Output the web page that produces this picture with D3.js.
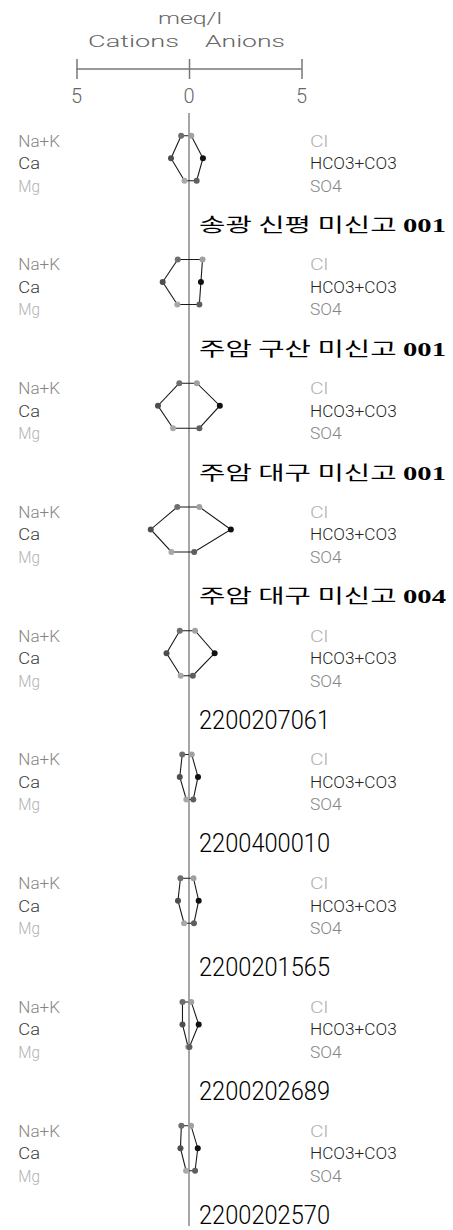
<!DOCTYPE html>
<html>
<head>
<meta charset="utf-8">
<script src="https://cdn.jsdelivr.net/npm/d3@7"></script>
<style>
  html, body { margin: 0; padding: 0; background: #fff; }
  svg { display: block; }
</style>
</head>
<body>
<div id="chart"></div>
<script>
// ---------------- data ----------------
const samples = [
  "송광 신평 미신고 001",
  "주암 구산 미신고 001",
  "주암 대구 미신고 001",
  "주암 대구 미신고 004",
  "2200207061",
  "2200400010",
  "2200201565",
  "2200202689",
  "2200202570"
];
// cations (meq/l)
const naK  = [0.35, 0.50, 0.43, 0.52, 0.41, 0.30, 0.38, 0.29, 0.34];
const ca   = [0.80, 1.17, 1.38, 1.70, 1.00, 0.41, 0.49, 0.29, 0.38];
const mg   = [0.20, 0.52, 0.71, 0.78, 0.37, 0.12, 0.22, 0.04, 0.13];
// anions (meq/l)
const cl   = [0.10, 0.60, 0.35, 0.46, 0.27, 0.12, 0.20, 0.10, 0.09];
const hco3 = [0.62, 0.53, 1.37, 1.86, 1.14, 0.40, 0.43, 0.43, 0.39];
const so4  = [0.34, 0.46, 0.46, 0.23, 0.17, 0.19, 0.22, 0.02, 0.27];

const cationLabels = ["Na+K", "Ca", "Mg"];
const anionLabels  = ["Cl", "HCO3+CO3", "SO4"];
const tickValues   = [-5, 0, 5];
const tickLabels   = ["5", "0", "5"];
const unitLabel    = "meq/l";
const sideLabels   = ["Cations", "Anions"];

// ---------------- layout ----------------
const W = 453, H = 1230;
const svg = d3.select("#chart").append("svg").attr("width", W).attr("height", H);

const x = d3.scaleLinear().domain([-5, 5]).range([76.5, 301.5]);
const panelY = d3.scaleLinear().domain([0, samples.length - 1]).range([135.7, 1125.7]);
const rowY = d3.scalePoint().domain([0, 1, 2]).range([0, 45]);

const strokeFont = "Roboto, 'Liberation Sans', sans-serif";
const cationText = ["#858585", "#3a3a3a", "#b2b2b2"];
const anionText  = ["#b2b2b2", "#252525", "#858585"];
const cationDot  = ["#6e6e6e", "#4e4e4e", "#a8a8a8"];
const anionDot   = ["#a0a0a0", "#111111", "#5e5e5e"];

// ---------------- header ----------------
svg.append("text").text(unitLabel)
  .attr("x", 190).attr("y", 24).attr("text-anchor", "middle")
  .attr("font-family", strokeFont).attr("font-weight", 300).attr("font-size", 17)
  .attr("fill", "#666").attr("textLength", 64).attr("lengthAdjust", "spacingAndGlyphs");
svg.append("text").text(sideLabels[0])
  .attr("x", 179).attr("y", 46.5).attr("text-anchor", "end")
  .attr("font-family", strokeFont).attr("font-weight", 300).attr("font-size", 17)
  .attr("fill", "#666").attr("textLength", 91).attr("lengthAdjust", "spacingAndGlyphs");
svg.append("text").text(sideLabels[1])
  .attr("x", 205).attr("y", 46.5).attr("text-anchor", "start")
  .attr("font-family", strokeFont).attr("font-weight", 300).attr("font-size", 17)
  .attr("fill", "#666").attr("textLength", 80).attr("lengthAdjust", "spacingAndGlyphs");

// axis
const axis = d3.axisTop(x).tickValues(tickValues).tickSize(10).tickFormat("");
const gAxis = svg.append("g").attr("transform", "translate(0,69)").call(axis);
gAxis.select(".domain").remove();
gAxis.append("line").attr("x1", x(-5)).attr("x2", x(5)).attr("y1", 0).attr("y2", 0)
  .attr("stroke", "#777").attr("stroke-width", 1.5);
gAxis.selectAll(".tick line").attr("y1", -10).attr("y2", 10)
  .attr("stroke", "#777").attr("stroke-width", 1.5);
svg.selectAll("text.tickLab").data(tickValues).join("text").attr("class", "tickLab")
  .attr("x", d => x(d)).attr("y", 103).attr("text-anchor", "middle")
  .attr("font-family", strokeFont).attr("font-weight", 300).attr("font-size", 20)
  .attr("fill", "#666").text((d, i) => tickLabels[i]);

// central vertical line
svg.append("line").attr("x1", x(0)).attr("x2", x(0)).attr("y1", 113).attr("y2", 1226)
  .attr("stroke", "#888").attr("stroke-width", 1.5);

// ---------------- panels ----------------
const leftW  = [41.7, 21.7, 21.7];
const rightW = [18.3, 86.7, 31.7];

samples.forEach((name, i) => {
  const y0 = panelY(i);
  const g = svg.append("g");

  // row labels
  cationLabels.forEach((lab, r) => {
    g.append("text").text(lab)
      .attr("x", 18.3).attr("y", y0 + rowY(r) + 11)
      .attr("font-family", strokeFont).attr("font-weight", 300).attr("font-size", 17)
      .attr("fill", cationText[r])
      .attr("textLength", leftW[r]).attr("lengthAdjust", "spacingAndGlyphs");
  });
  anionLabels.forEach((lab, r) => {
    g.append("text").text(lab)
      .attr("x", 310).attr("y", y0 + rowY(r) + 11)
      .attr("font-family", strokeFont).attr("font-weight", 300).attr("font-size", 17)
      .attr("fill", anionText[r])
      .attr("textLength", rightW[r]).attr("lengthAdjust", "spacingAndGlyphs");
  });

  const cats = [naK[i], ca[i], mg[i]];
  const ans  = [cl[i], hco3[i], so4[i]];
  const pts = [
    [x(-cats[0]), y0 + rowY(0)],
    [x(-cats[1]), y0 + rowY(1)],
    [x(-cats[2]), y0 + rowY(2)],
    [x(ans[2]),   y0 + rowY(2)],
    [x(ans[1]),   y0 + rowY(1)],
    [x(ans[0]),   y0 + rowY(0)]
  ];
  g.append("path")
    .attr("d", d3.line().curve(d3.curveLinearClosed)(pts))
    .attr("fill", "none").attr("stroke", "#1a1a1a").attr("stroke-width", 1.1);

  cats.forEach((v, r) => {
    g.append("circle").attr("cx", x(-v)).attr("cy", y0 + rowY(r)).attr("r", 3)
      .attr("fill", cationDot[r]);
  });
  ans.forEach((v, r) => {
    g.append("circle").attr("cx", x(v)).attr("cy", y0 + rowY(r)).attr("r", 3)
      .attr("fill", anionDot[r]);
  });

  // sample label
  const m = name.match(/^(.*\s)(\d+)$/);
  if (m && /[가-힣]/.test(name)) {
    const t = g.append("text")
      .attr("x", 199).attr("y", y0 + 96.5)
      .attr("font-size", 19.5).attr("fill", "#000")
      .attr("textLength", 247).attr("lengthAdjust", "spacingAndGlyphs");
    t.append("tspan").attr("font-family", "'Noto Sans CJK KR', sans-serif").text(m[1]);
    t.append("tspan").attr("font-family", "'Liberation Serif', serif").attr("font-weight", "bold").text(m[2]);
  } else {
    g.append("text").text(name)
      .attr("x", 199).attr("y", y0 + 98)
      .attr("font-family", strokeFont).attr("font-weight", 300).attr("font-size", 25)
      .attr("fill", "#000")
      .attr("textLength", 131).attr("lengthAdjust", "spacingAndGlyphs");
  }
});
</script>
</body>
</html>
